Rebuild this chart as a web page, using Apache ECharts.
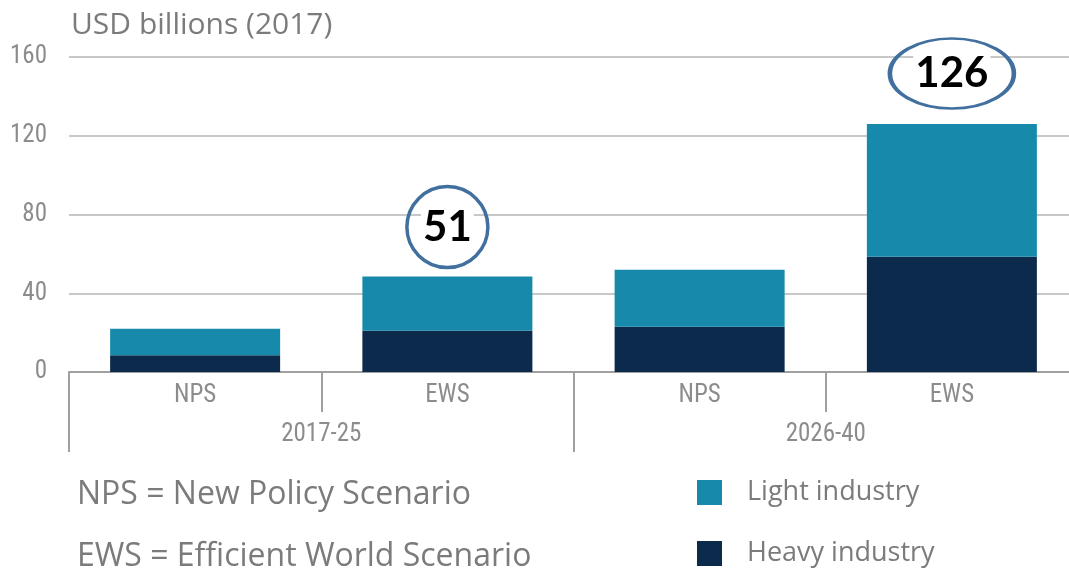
<!DOCTYPE html>
<html><head><meta charset="utf-8">
<script src="https://cdn.jsdelivr.net/npm/echarts@6/dist/echarts.min.js"></script>
<style>html,body{margin:0;padding:0;background:#fff}#c{width:1069px;height:569px}</style>
</head><body><div id="c"></div>
<script>
const scenarios = ['NPS', 'EWS', 'NPS', 'EWS'];
const periods = ['2017-25', '2026-40'];
const heavyIndustry = [8.5, 21, 23, 58.5];
const lightIndustry = [13.5, 27.5, 29, 67.5];
const yTicks = [0, 40, 80, 120, 160];
const callouts = [
  {idx: 1, label: '51', y: 73.6},
  {idx: 3, label: '126', y: 151.6}
];
const calloutSizes = [[81, 81], [124, 70]];

const grayText = '#7b7b7b';
const axisFont = '"Liberation Sans Narrow", "Arial Narrow", "Roboto Condensed", "Liberation Sans", sans-serif';
const bodyFont = '"Open Sans", Lato, sans-serif';
const numFont = 'Lato, "Open Sans", sans-serif';
const ellipse = 'path://M0,50A50,50,0,1,1,100,50A50,50,0,1,1,0,50Z';

const legendBase = {
  orient: 'horizontal', left: 697, padding: 0,
  itemWidth: 25, itemHeight: 25,
  icon: 'rect',
  textStyle: {fontFamily: bodyFont, fontSize: 27, color: grayText, padding: [0, 0, 0, 20]}
};

const chart = echarts.init(document.getElementById('c'), null, {renderer: 'canvas'});
chart.setOption({
  animation: false,
  title: [
    {text: 'USD billions (2017)', left: 71, top: 10, padding: 0, textStyle: {fontFamily: bodyFont, fontSize: 30, fontWeight: 'normal', color: grayText}},
    {text: 'NPS = New Policy Scenario', left: 77, top: 479, padding: 0, textStyle: {fontFamily: bodyFont, fontSize: 32, fontWeight: 'normal', color: grayText}},
    {text: 'EWS = Efficient World Scenario', left: 77, top: 541, padding: 0, textStyle: {fontFamily: bodyFont, fontSize: 32, fontWeight: 'normal', color: grayText}}
  ],
  legend: [
    Object.assign({}, legendBase, {top: 479, data: ['Light industry']}),
    Object.assign({}, legendBase, {top: 540, data: ['Heavy industry']})
  ],
  grid: {left: 69, top: 57, width: 1009, height: 315, containLabel: false, outerBoundsMode: 'none'},
  xAxis: [
    {
      type: 'category', data: scenarios, position: 'bottom',
      axisLine: {show: true, lineStyle: {color: '#a0a0a0', width: 2}},
      axisTick: {show: true, length: 40, lineStyle: {color: '#a0a0a0', width: 2}},
      axisLabel: {margin: 11, fontFamily: axisFont, fontSize: 25, color: '#8c8c8c'}
    },
    {
      type: 'category', data: periods, position: 'bottom', offset: 0,
      axisLine: {show: false},
      axisTick: {show: true, length: 80, lineStyle: {color: '#a0a0a0', width: 2}},
      axisLabel: {margin: 50, fontFamily: axisFont, fontSize: 25, color: '#8c8c8c'}
    }
  ],
  yAxis: {
    type: 'value', min: yTicks[0], max: yTicks[yTicks.length - 1], interval: 40,
    axisLine: {show: false}, axisTick: {show: false},
    splitLine: {lineStyle: {color: '#c8c8c8', width: 2}},
    axisLabel: {margin: 22, fontFamily: axisFont, fontSize: 25, color: '#8c8c8c'}
  },
  series: [
    {
      name: 'Heavy industry', type: 'bar', stack: 'a', xAxisIndex: 0,
      data: heavyIndustry, barWidth: 170,
      itemStyle: {color: '#0b2a4c'}
    },
    {
      name: 'Light industry', type: 'bar', stack: 'a', xAxisIndex: 0,
      data: lightIndustry, barWidth: 170,
      itemStyle: {color: '#178aab'},
      markPoint: {
        symbol: ellipse,
        symbolKeepAspect: false,
        data: callouts.map((c, i) => ({
          coord: [c.idx, c.y], value: c.label, symbolSize: calloutSizes[i],
          itemStyle: {color: 'rgba(255,255,255,0)', borderColor: '#41709f', borderWidth: 3.5},
          label: {show: true, position: 'inside', formatter: c.label, fontFamily: numFont, fontWeight: 'bold', fontSize: 42, color: '#000', backgroundColor: '#fff', padding: [0, 2]}
        }))
      }
    }
  ]
});
</script></body></html>
